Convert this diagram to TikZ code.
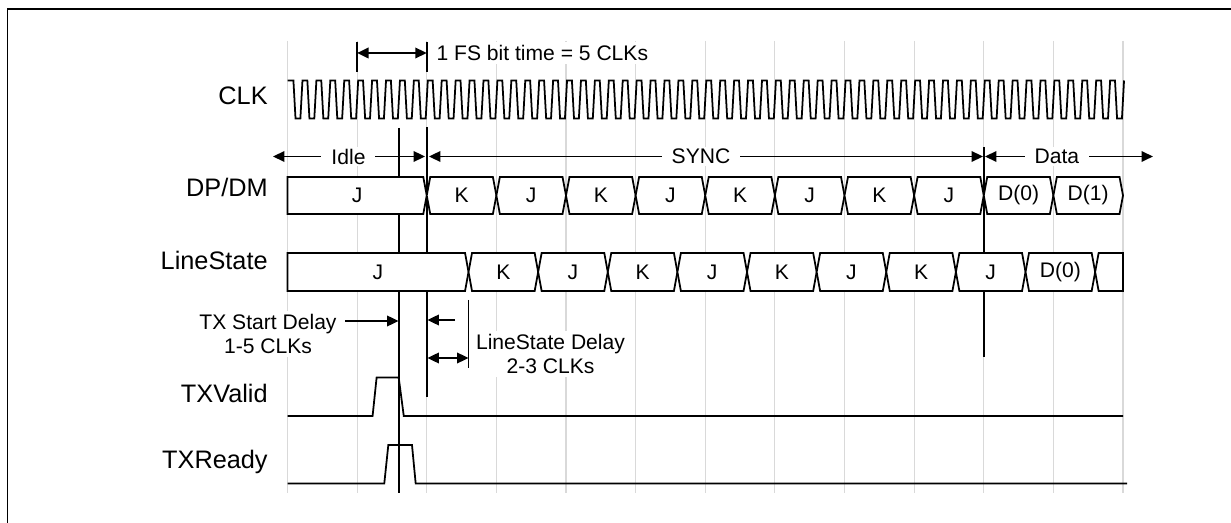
\documentclass[tikz,border=0pt]{standalone}
\usepackage{fontspec}
\setmainfont{Liberation Sans}
\usetikzlibrary{arrows.meta}

\begin{document}
\begin{tikzpicture}[
    >={Triangle[length=6.5pt,width=6pt]},
    sig/.style={line width=1pt},
    gridline/.style={gray!30,line width=0.6pt},
    marker/.style={line width=1pt},
    bus/.style={draw,fill=white,line width=1pt},
    bit/.style={font=\fontsize{12}{14}\selectfont,inner sep=0pt},
    rowlabel/.style={font=\fontsize{14.4}{17}\selectfont,inner sep=0pt,anchor=base east},
    note/.style={font=\fontsize{12}{13.7}\selectfont,fill=white,align=center,inner xsep=3pt,inner ysep=2pt},
    span/.style={font=\fontsize{12}{14}\selectfont,fill=white,inner xsep=0.2cm,inner ysep=1pt}]
    \useasboundingbox (0cm,0cm) rectangle (24.62cm,-10.46cm);
    \draw[line width=1.1pt] (0.15cm,-10.46cm) -- (0.15cm,-0.18cm) -- (24.62cm,-0.18cm);

    \node[rowlabel] (CLK) at (5.36cm,-2.10cm) {CLK};
    \node[rowlabel] (DPDM) at (5.36cm,-3.94cm) {DP/DM};
    \node[rowlabel] (LineState) at (5.36cm,-5.40cm) {LineState};
    \node[rowlabel] (TXValid) at (5.36cm,-8.06cm) {TXValid};
    \node[rowlabel] (TXReady) at (5.36cm,-9.38cm) {TXReady};

    \begin{scope}[xshift=5.75cm,x=1.3925cm]
      \foreach \i in {0,...,12} \draw[gridline] (\i,-0.82) -- (\i,-9.86);

      \draw[marker] (1,-0.84) -- (1,-1.44);
      \draw[marker] (2,-0.84) -- (2,-1.44);
      \coordinate (fsL) at (1,-1.06);
      \coordinate (fsR) at (2,-1.06);
      \draw[sig,<->] (fsL) -- (fsR);
      \node[note,anchor=west] (FS) at (2.06,-1.06) {1 FS bit time = 5 CLKs};

      \draw[sig] (0,-1.61) \foreach \k in {0,...,59} {
        -- ({\k*0.2+0.085},-1.61) -- ({\k*0.2+0.115},-2.37)
        -- ({\k*0.2+0.185},-2.37) -- ({\k*0.2+0.215},-1.61)};

      \draw[marker] (1.6,-2.56) -- (1.6,-9.86);
      \draw[marker] (2,-2.54) -- (2,-7.94);
      \draw[marker] (10,-2.94) -- (10,-7.14);

      \coordinate (idleL) at (-0.208,-3.13);
      \coordinate (idleR) at (1.975,-3.13);
      \coordinate (syncL) at (2.032,-3.13);
      \coordinate (syncR) at (9.989,-3.13);
      \coordinate (dataL) at (10.018,-3.13);
      \coordinate (dataR) at (12.43,-3.13);
      \draw[sig,<->] (idleL) -- (idleR);
      \draw[sig,<->] (syncL) -- (syncR);
      \draw[sig,<->] (dataL) -- (dataR);
      \node[span] (Idle) at (0.876,-3.13) {Idle};
      \node[span] (SYNC) at (5.939,-3.13) {SYNC};
      \node[span] (Data) at (11.05,-3.13) {Data};

      \draw[bus] (0,-3.54) -- (1.95,-3.54) -- (2,-3.91) -- (1.95,-4.28) -- (0,-4.28) -- cycle;
      \node[bit] (dp0) at (1,-3.91) {J};
      \foreach \a/\t [count=\n] in {2/K,3/J,4/K,5/J,6/K,7/J,8/K,9/J,10/D(0),11/D(1)}{
        \draw[bus] ({\a+0.05},-3.54) -- ({\a+0.95},-3.54) -- ({\a+1},-3.91)
          -- ({\a+0.95},-4.28) -- ({\a+0.05},-4.28) -- (\a,-3.91) -- cycle;
        \node[bit] (dp\n) at ({\a+0.5},-3.91) {\t};
      }

      \draw[bus] (0,-5.06) -- (2.55,-5.06) -- (2.6,-5.44) -- (2.55,-5.82) -- (0,-5.82) -- cycle;
      \node[bit] (ls0) at (1.3,-5.44) {J};
      \foreach \a/\t [count=\n] in {2.6/K,3.6/J,4.6/K,5.6/J,6.6/K,7.6/J,8.6/K,9.6/J,10.6/D(0)}{
        \draw[bus] ({\a+0.05},-5.06) -- ({\a+0.95},-5.06) -- ({\a+1},-5.44)
          -- ({\a+0.95},-5.82) -- ({\a+0.05},-5.82) -- (\a,-5.44) -- cycle;
        \node[bit] (ls\n) at ({\a+0.5},-5.44) {\t};
      }
      \draw[bus] (11.65,-5.06) -- (12,-5.06) -- (12,-5.82) -- (11.65,-5.82) -- (11.6,-5.44) -- cycle;

      \draw[sig] (0,-8.32) -- (1.222,-8.32) -- (1.28,-7.55) -- (1.597,-7.55) -- (1.67,-8.32) -- (12,-8.32);
      \draw[sig] (0,-9.67) -- (1.39,-9.67) -- (1.448,-8.90) -- (1.788,-8.90) -- (1.841,-9.67) -- (12.06,-9.67);

      \coordinate (startTail) at (0.826,-6.42);
      \coordinate (startTip) at (1.595,-6.42);
      \coordinate (lsTail) at (2.406,-6.40);
      \coordinate (lsTip) at (2.01,-6.40);
      \coordinate (lsA) at (2.01,-7.16);
      \coordinate (lsB) at (2.6,-7.16);
      \draw[sig,->] (startTail) -- (startTip);
      \draw[sig,->] (lsTail) -- (lsTip);
      \draw[marker] (2.6,-6.0) -- (2.6,-7.36);
      \draw[sig,<->] (lsA) -- (lsB);
    \end{scope}

    \node[note] (TXStart) at (5.36cm,-6.68cm) {TX Start Delay\\1-5 CLKs};
    \node[note] (LSDelay) at (11.01cm,-7.08cm) {LineState Delay\\2-3 CLKs};
  \end{tikzpicture}
\end{document}
